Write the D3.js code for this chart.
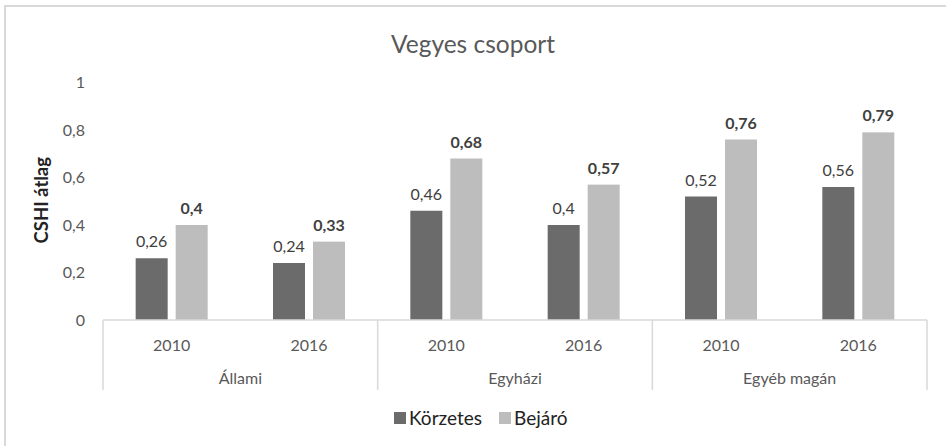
<!DOCTYPE html>
<html>
<head>
<meta charset="utf-8">
<script src="https://cdn.jsdelivr.net/npm/d3@7"></script>
<style>
  body { margin: 0; background: #fff; }
  svg { display: block; font-family: Lato, "Open Sans", sans-serif; }
</style>
</head>
<body>
<svg id="chart" width="946" height="446"></svg>
<script>
// chart data
const groups = ["Állami", "Egyházi", "Egyéb magán"];
const years = ["2010", "2016"];
const series = ["Körzetes", "Bejáró"];
const korzetes = [0.26, 0.24, 0.46, 0.40, 0.52, 0.56];
const bejaro = [0.40, 0.33, 0.68, 0.57, 0.76, 0.79];
const yTicks = [0, 0.2, 0.4, 0.6, 0.8, 1];
const colors = ["#6b6b6b", "#bdbdbd"];

const svg = d3.select("#chart");

// outer frame (right and bottom edges fall outside the picture)
svg.append("rect")
    .attr("x", 5).attr("y", 6)
    .attr("width", 960).attr("height", 460)
    .style("fill", "none")
    .style("stroke", "#d9d9d9")
    .style("stroke-width", 2);

const plotLeft = 103, plotRight = 927, plotTop = 82.5, plotBottom = 320;

// one slot per group/year pair
const cats = [];
groups.forEach(g => years.forEach(y => cats.push({ group: g, year: y })));
cats.forEach((c, i) => { c.k = korzetes[i]; c.b = bejaro[i]; c.id = i; });

const x = d3.scaleBand().domain(cats.map(c => c.id)).range([plotLeft, plotRight]);
const y = d3.scaleLinear().domain([0, 1]).range([plotBottom, plotTop]);

// title
svg.append("text")
    .attr("x", 473).attr("y", 53)
    .attr("text-anchor", "middle")
    .style("font-size", "24.5px")
    .style("fill", "#595959")
    .text("Vegyes csoport");

// y axis labels (no line, no gridlines)
const yAxis = svg.append("g")
    .attr("transform", `translate(${plotLeft},0)`)
    .call(d3.axisLeft(y).tickValues(yTicks).tickSize(0).tickPadding(18)
        .tickFormat(d => String(d).replace(".", ",")));
yAxis.select(".domain").remove();
yAxis.selectAll("text")
    .style("font-family", "Lato, 'Open Sans', sans-serif")
    .style("font-size", "16px")
    .style("fill", "#595959");

svg.append("text")
    .attr("transform", `translate(48,${(plotTop + plotBottom) / 2 - 1}) rotate(-90)`)
    .attr("text-anchor", "middle")
    .style("font-size", "18.5px")
    .style("font-weight", "bold")
    .style("fill", "#222")
    .text("CSHI átlag");

// bars
const barW = 32, gap = 8;
const bars = svg.append("g");
cats.forEach(c => {
    const cx = x(c.id) + x.bandwidth() / 2;
    [c.k, c.b].forEach((v, s) => {
        const bx = s === 0 ? cx - gap / 2 - barW : cx + gap / 2;
        bars.append("rect")
            .attr("x", bx).attr("y", y(v))
            .attr("width", barW).attr("height", y(0) - y(v))
            .style("fill", colors[s]);
        bars.append("text")
            .attr("x", bx + barW / 2)
            .attr("y", y(v) - 11)
            .attr("text-anchor", "middle")
            .style("font-size", "16px")
            .style("font-weight", s === 1 ? "bold" : "normal")
            .style("fill", "#404040")
            .text(String(v).replace(".", ","));
    });
});

// category axis with group separators
const axisColor = "#d9d9d9";
svg.append("line")
    .attr("x1", plotLeft).attr("x2", plotRight)
    .attr("y1", plotBottom).attr("y2", plotBottom)
    .style("stroke", axisColor).style("stroke-width", 1.5);

const groupW = (plotRight - plotLeft) / groups.length;
d3.range(groups.length + 1).forEach(i => {
    svg.append("line")
        .attr("x1", plotLeft + i * groupW).attr("x2", plotLeft + i * groupW)
        .attr("y1", plotBottom).attr("y2", 390)
        .style("stroke", axisColor).style("stroke-width", 1.5);
});

svg.append("g").selectAll("text")
    .data(cats)
    .enter()
    .append("text")
    .attr("x", d => x(d.id) + x.bandwidth() / 2)
    .attr("y", 351)
    .attr("text-anchor", "middle")
    .style("font-size", "16px")
    .style("fill", "#595959")
    .text(d => d.year);

svg.append("g").selectAll("text")
    .data(groups)
    .enter()
    .append("text")
    .attr("x", (d, i) => plotLeft + (i + 0.5) * groupW)
    .attr("y", 384)
    .attr("text-anchor", "middle")
    .style("font-size", "16px")
    .style("fill", "#595959")
    .text(d => d);

// legend
const legend = svg.append("g");
const legendX = [394, 499];
series.forEach((s, i) => {
    legend.append("rect")
        .attr("x", legendX[i]).attr("y", 412)
        .attr("width", 12).attr("height", 12)
        .style("fill", colors[i]);
    legend.append("text")
        .attr("x", legendX[i] + 15).attr("y", 425)
        .style("font-size", "19px")
        .style("fill", "#222")
        .text(s);
});
</script>
</body>
</html>
